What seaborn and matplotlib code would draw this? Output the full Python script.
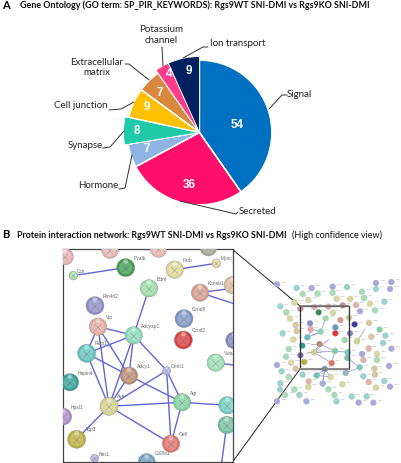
#Recreate GO pie chart and STRING protein network figure
import pandas as pd
import matplotlib
matplotlib.use('Agg')
import matplotlib.pyplot as plt
import seaborn as sns

#Pie chart values
categories = ['Signal', 'Secreted', 'Hormone', 'Synapse', 'Cell junction',
              'Extracellular\nmatrix', 'Potassium\nchannel', 'Ion transport']
counts = [54, 36, 7, 8, 9, 7, 4, 9]
pie_colors = ['#0070C0', '#FF0F69', '#8EB4E3', '#20C9A8', '#FFC000',
              '#D8893F', '#FF3D8B', '#002060']
#These wedges stick out of the pie, tips stay in the center
pie_bigger = ['Synapse', 'Potassium\nchannel', 'Ion transport']

#Network close up, positions read in the zoomed picture
net_names = ['', '', '', '', 'Pvalb', 'Cck', 'Fzrb', 'Myoc', 'Bdnf', 'Kcnab1', '',
             'Rtn4rl2', 'Ccnd6', 'Ccnd2', 'Vip', 'Adcyap1', 'Rxfp1', 'Adcy1',
             'Gnrh1', 'Hapln4', 'Vwa1', '', 'Avp', 'Agt', '', '', 'Hpsl1', 'Aqp3',
             'Nrn1', 'Gefl', 'Col8a1']
net_x = [195, 330, 475, 625, 377, 220, 524, 649, 447, 600, 698, 285, 552, 550,
         294, 401, 260, 387, 500, 210, 647, 702, 327, 546, 682, 680, 190, 230,
         284, 513, 440]
net_y = [95, 75, 72, 68, 128, 152, 134, 115, 190, 203, 180, 242, 281, 345, 305,
         331, 385, 452, 437, 472, 413, 346, 544, 532, 541, 600, 575, 643, 700,
         656, 712]
net_r = [25, 25, 25, 25, 27, 13, 26, 13, 26, 26, 26, 27, 27, 27, 26, 26, 27, 26,
         12, 26, 26, 25, 27, 26, 26, 26, 25, 27, 12, 26, 26]
net_colors = ['#E3AFAF', '#E3B5B0', '#E3B5B0', '#A5A595', '#3F9A4F', '#A8DCA8',
              '#DDD795', '#DDD795', '#9ADCA8', '#D59A8A', '#D8BE9A', '#8C8CC8',
              '#7C94C4', '#D63A3A', '#E3A8A0', '#88D8B8', '#62C0C0', '#B88A70',
              '#A8B4E4', '#2F9C94', '#9ADCB0', '#8484BC', '#D2D08A', '#80CFA0',
              '#70CCC0', '#70BFA0', '#A888C8', '#B8B040', '#B0A8DC', '#E0706A',
              '#6C9CC0']
net_edges = [('Cck', 'Pvalb'), ('Fzrb', 'Myoc'), ('Bdnf', 'Adcyap1'), ('Vip', 'Adcyap1'),
             ('Vip', 'Rxfp1'), ('Vip', 'Adcy1'), ('Vip', 'Avp'), ('Adcyap1', 'Rxfp1'),
             ('Adcyap1', 'Adcy1'), ('Adcyap1', 'Avp'), ('Adcyap1', 'Gnrh1'), ('Rxfp1', 'Avp'),
             ('Rxfp1', 'Adcy1'), ('Adcy1', 'Avp'), ('Adcy1', 'Agt'), ('Gnrh1', 'Avp'),
             ('Gnrh1', 'Agt'), ('Gnrh1', 'Gefl'), ('Avp', 'Agt'), ('Avp', 'Gefl'),
             ('Avp', 'Aqp3'), ('Agt', 'Gefl')]
#Edges going to nodes without a readable name
net_extra_x1 = [600, 600, 546, 647, 680]
net_extra_y1 = [203, 203, 532, 413, 600]
net_extra_x2 = [698, 698, 682, 698, 665]
net_extra_y2 = [190, 235, 541, 420, 712]

#Whole network overview
ov_x = [141, 200, 245, 308, 351, 438, 484, 480, 438, 396, 308, 263, 218, 235, 320, 361,
        402, 463, 420, 378, 193, 151, 169, 180, 197, 200, 158, 190, 176, 168, 183, 141,
        155, 197, 176, 218, 236, 260, 284, 302, 278, 347, 389, 433, 435, 400, 477, 463,
        480, 438, 416, 337, 295, 235, 193, 151, 150, 165, 208, 141, 229, 319, 313, 365,
        410, 386, 430, 211, 253, 295, 338, 266, 309, 357, 331, 287, 240, 374, 316, 316,
        242, 272, 232, 269, 217, 252, 315, 223, 305, 353, 352, 211, 360, 344, 381, 417,
        435, 449, 424, 466, 459, 484, 441, 441, 416, 396, 400, 390]
ov_y = [73, 84, 84, 80, 81, 69, 66, 87, 87, 95, 98, 101, 102, 120, 116, 117,
        114, 125, 131, 135, 128, 139, 157, 176, 195, 213, 220, 239, 267, 290, 308, 315,
        334, 326, 351, 344, 364, 346, 327, 351, 371, 339, 322, 326, 344, 349, 318, 363,
        380, 383, 366, 373, 388, 381, 388, 370, 388, 405, 405, 424, 424, 424, 405, 409,
        409, 428, 428, 146, 141, 140, 136, 157, 158, 173, 180, 175, 190, 193, 202, 220,
        208, 215, 232, 252, 257, 277, 273, 306, 309, 277, 294, 286, 220, 240, 244, 189,
        151, 209, 230, 227, 249, 266, 282, 300, 265, 282, 300, 154]
ov_colors = ['#A8A8DC', '#9AD4D0', '#A8A8DC', '#A8A8DC', '#9AD4C4', '#A8A8DC', '#A8A8DC', '#A8A8DC',
             '#9AD4D0', '#A8DCB4', '#A8DCB4', '#A8DCB4', '#A8DCB4', '#D8D8A0', '#D8D8A0', '#D8D8A0',
             '#A8DCB4', '#9AD4D0', '#D8D8A0', '#E0B4A8', '#D8D8A0', '#9AD4D0', '#A8DCB4', '#D8D8A0',
             '#D8C8A0', '#D8C8A0', '#9AD4D0', '#D8D8A0', '#A8DCB4', '#A8DCB4', '#D8D8A0', '#A8A8DC',
             '#9AD4D0', '#D8C8A0', '#A8DCB4', '#9AD4D0', '#E0B4A8', '#70C4B0', '#7C88B4', '#D8D8A0',
             '#A8A8DC', '#90B8B8', '#80C8C0', '#D8C8A0', '#D8C8A0', '#9AD4D0', '#A8A8DC', '#9AD4D0',
             '#A8A8DC', '#D8D8A0', '#E0B4A8', '#D8D8A0', '#A8DCB4', '#D8D8A0', '#A8DCB4', '#9AD4D0',
             '#9AD4D0', '#A8DCB4', '#9AD4D0', '#A8A8DC', '#A8A8DC', '#9AD4D0', '#A8DCB4', '#9AD4D0',
             '#9AD4D0', '#A8A8DC', '#A8A8DC', '#C89090', '#E0B4A8', '#E0B4A8', '#C89090', '#3F8A50',
             '#D8D8A0', '#D8C8A0', '#D59A8A', '#9ADCA8', '#8C8CC8', '#3A3AA0', '#6C94C8', '#E03A3A',
             '#E3A8A0', '#88D8B8', '#62C0C0', '#B88A70', '#2F9C94', '#D2D08A', '#80CFA0', '#B8B040',
             '#E0706A', '#70CCC0', '#70BFA0', '#7868A8', '#8484BC', '#9ADCB0', '#D2D08A', '#D8C8A0',
             '#A8DCB4', '#80D0A0', '#D8C8A0', '#9AD4D0', '#9AD4D0', '#A8A8DC', '#D8D8A0', '#A8DCB4',
             '#E0B4A8', '#A8A8DC', '#E0B4A8', '#A8A8DC']
ov_edge_x1 = [242, 242, 242, 242, 272, 272, 272, 232, 232, 269, 269, 252, 252, 252, 315, 287,
              278, 260, 260, 284, 389, 389, 381, 315, 284]
ov_edge_y1 = [208, 215, 252, 277, 215, 252, 277, 232, 277, 252, 252, 277, 277, 277, 273, 175,
              371, 346, 346, 327, 322, 322, 244, 273, 327]
ov_edge_x2 = [272, 232, 269, 252, 232, 269, 252, 272, 252, 252, 315, 296, 315, 305, 305, 272,
              284, 284, 302, 302, 352, 347, 405, 353, 278]
ov_edge_y2 = [215, 232, 252, 277, 232, 252, 277, 215, 277, 277, 273, 238, 273, 309, 309, 215,
              327, 327, 351, 351, 294, 339, 208, 277, 371]

#Pixel helper, figure axes runs from top down the same as the picture
FIG_W, FIG_H = 401, 463


def flip(py):
    return FIG_H - py


def drawSpheres(ax, df):
    #Base ball, lighter glass on top and a small highlight
    ax.scatter(df['x'], df['y'], s=df['area'], c=df['color'], edgecolors='#8A8A8A',
               linewidths=0.3, zorder=3)
    ax.scatter(df['x'], df['y'], s=df['area'] * 0.55, c='white', alpha=0.22, linewidths=0, zorder=4)
    ax.scatter(df['x'], df['y'] + df['r'] * 0.1, s=df['area'] * 0.14, c='#555555',
               marker='x', linewidths=0.35, alpha=0.45, zorder=5)
    ax.scatter(df['x'], df['y'] - df['r'] * 0.68, s=df['area'] * 0.07, c='white', alpha=0.4,
               linewidths=0, zorder=6)


sns.set_theme(style='white')
plt.rcParams['font.family'] = ['Lato', 'DejaVu Sans']

fig = plt.figure(figsize=(FIG_W / 100, FIG_H / 100), dpi=100)
base = fig.add_axes([0, 0, 1, 1])

#Pie chart, a second bigger pie shows only the wedges that stick out
base.pie(counts, colors=pie_colors, startangle=90, counterclock=False,
         center=(199.5, flip(132.5)), radius=72,
         wedgeprops={'edgecolor': 'white', 'linewidth': 0.6})
big_colors = [c if n in pie_bigger else 'none' for n, c in zip(categories, pie_colors)]
big_wedges, _ = base.pie(counts, colors=big_colors, startangle=90, counterclock=False,
                         center=(199.5, flip(132.5)), radius=76)
for name, wedge in zip(categories, big_wedges):
    if name in pie_bigger:
        wedge.set_edgecolor('white')
        wedge.set_linewidth(0.6)
base.set_xlim(0, FIG_W)
base.set_ylim(0, FIG_H)
base.set_aspect('equal')
base.axis('off')

#Counts on the wedges
count_pos = [(237.5, 125), (189.5, 184.5), (146.5, 148.5), (136.5, 130.5), (146.5, 106.5),
             (159.5, 92.5), (168.7, 74), (188.7, 70.5)]
for value, (px, py) in zip(counts, count_pos):
    base.text(px, flip(py), str(value), color='white', fontsize=8.4, fontweight='bold',
              family='Liberation Sans', ha='center', va='center')

#Category labels with their leader lines
label_pos = [(299.5, 94.5), (257.5, 211), (98, 185.5), (85, 145.5), (81, 106),
             (97, 67.5), (161.5, 35), (237.5, 44)]
for name, (px, py) in zip(categories, label_pos):
    base.text(px, flip(py), name, color='#222222', fontsize=7.0, ha='center', va='center',
              linespacing=1.25)
leaders = [[(269, 109), (282, 95), (287, 95)],
           [(180, 201), (236, 214), (238, 212)],
           [(132, 155), (125, 188), (119, 189)],
           [(124, 131), (110, 147), (103, 148)],
           [(134, 102), (121, 109), (109, 110)],
           [(149, 80), (129, 64), (125, 64)],
           [(163, 66), (162, 47)],
           [(183, 58), (203, 47), (208, 47)]]
for line in leaders:
    base.plot([p[0] for p in line], [flip(p[1]) for p in line], color='#333333', lw=0.7)

#Titles
base.text(2, flip(5.5), 'A', fontsize=8, fontweight='bold', color='black', va='center')
base.text(20, flip(5), 'Gene Ontology (GO term: SP_PIR_KEYWORDS): Rgs9WT SNI-DMI vs Rgs9KO SNI-DMI',
          fontsize=6.43, fontweight='bold', color='#111111', va='center')
base.text(2, flip(234), 'B', fontsize=8, fontweight='bold', color='black', va='center')
base.text(17, flip(235), 'Protein interaction network: Rgs9WT SNI-DMI vs Rgs9KO SNI-DMI',
          fontsize=6.43, fontweight='bold', color='#111111', va='center')
base.text(292, flip(235), '(High confidence view)', fontsize=6.5, color='#111111', va='center')

#Lines from the close up to the box in the overview
base.plot([232.5, 300], [flip(249.5), flip(306)], color='#222222', lw=0.7)
base.plot([232.5, 300], [flip(462), flip(369)], color='#222222', lw=0.7)

#Network close up
zoom_ax = fig.add_axes([63.3 / FIG_W, (FIG_H - 462.3) / FIG_H, 169.4 / FIG_W, 213 / FIG_H])
net_df = pd.DataFrame({'name': net_names, 'x': net_x, 'y': net_y, 'r': net_r, 'color': net_colors})
#ball area in points^2, r is in zoomed pixels (3x)
net_df['area'] = (2 * net_df['r'] / 3 * 0.72) ** 2
lookup = net_df[net_df['name'] != ''].set_index('name')
for a, b in net_edges:
    zoom_ax.plot([lookup.loc[a, 'x'], lookup.loc[b, 'x']], [lookup.loc[a, 'y'], lookup.loc[b, 'y']],
                 color='#6464DC', lw=1.0, zorder=2)
for x1, y1, x2, y2 in zip(net_extra_x1, net_extra_y1, net_extra_x2, net_extra_y2):
    zoom_ax.plot([x1, x2], [y1, y2], color='#6464DC', lw=1.0, zorder=2)
drawSpheres(zoom_ax, net_df)
sns.despine(ax=zoom_ax, top=False, right=False)
for row in net_df.itertuples():
    if row.name:
        zoom_ax.text(row.x + row.r * 0.9, row.y - row.r * 1.05, row.name, fontsize=3.5,
                     color='#666666', family='Liberation Sans', va='center', clip_on=True, zorder=7)
zoom_ax.set_xlim(190, 698)
zoom_ax.set_ylim(712, 73)
zoom_ax.set_xticks([])
zoom_ax.set_yticks([])
for spine in zoom_ax.spines.values():
    spine.set_color('#444444')
    spine.set_linewidth(0.9)

#Network overview
ov_ax = fig.add_axes([230 / FIG_W, (FIG_H - 440) / FIG_H, 171 / FIG_W, 180 / FIG_H])
ov_df = pd.DataFrame({'x': ov_x, 'y': ov_y, 'color': ov_colors})
for x1, y1, x2, y2 in zip(ov_edge_x1, ov_edge_y1, ov_edge_x2, ov_edge_y2):
    ov_ax.plot([x1, x2], [y1, y2], color='#9090D8', lw=0.5, zorder=2)
sns.scatterplot(data=ov_df, x='x', y='y', hue='color', palette=dict(zip(ov_colors, ov_colors)),
                s=19, legend=False, edgecolor='#BBBBBB', linewidth=0.2, ax=ov_ax, zorder=3)
#Tiny unreadable gene names show as gray dashes
ov_ax.scatter(ov_df['x'] + 17, ov_df['y'] - 8, s=9, c='#BBBBBB', marker='_', linewidths=0.4, zorder=4)
#Box of the close up region
ov_ax.plot([211, 358, 358, 211, 211], [137, 137, 327, 327, 137], color='#333333', lw=0.9, zorder=6)
ov_ax.plot([211, 358], [327, 327], color='#888888', lw=1.4, zorder=6)
ov_ax.plot([211, 358], [137, 137], color='#777777', lw=1.2, zorder=6)
ov_ax.set_xlim(0, 513)
ov_ax.set_ylim(540, 0)
ov_ax.axis('off')
ov_ax.patch.set_alpha(0)

fig.savefig('out.png', dpi=100)
